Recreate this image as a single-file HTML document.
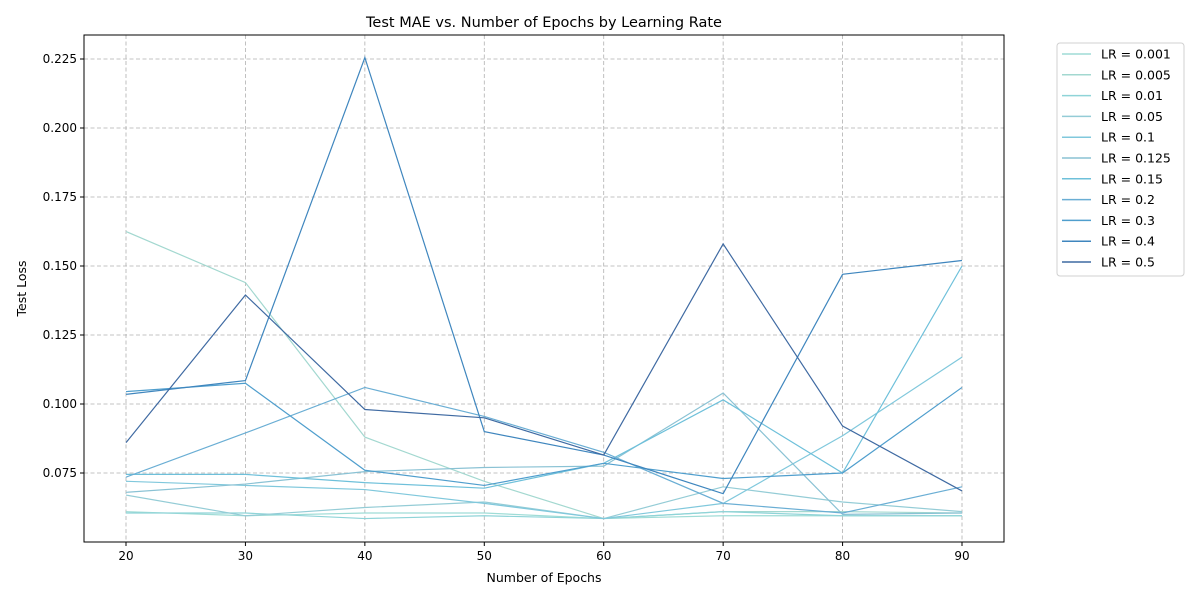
<!DOCTYPE html>
<html><head><meta charset="utf-8"><style>
body{margin:0;background:#fff;font-family:"Liberation Sans","DejaVu Sans",sans-serif}
svg text{font-family:"DejaVu Sans","Liberation Sans",sans-serif;fill:#000}
</style></head><body>
<svg id="chart" width="1200" height="600" xmlns="http://www.w3.org/2000/svg"></svg>
<script>
const epochs=[20,30,40,50,60,70,80,90];
const seriesLabels=["LR = 0.001","LR = 0.005","LR = 0.01","LR = 0.05","LR = 0.1","LR = 0.125","LR = 0.15","LR = 0.2","LR = 0.3","LR = 0.4","LR = 0.5"];
const s001=[0.061,0.0595,0.0605,0.0605,0.0585,0.0595,0.0595,0.0595];
const s005=[0.1625,0.144,0.088,0.072,0.0585,0.061,0.061,0.0605];
const s01=[0.0605,0.0605,0.0585,0.0595,0.0585,0.061,0.0595,0.0595];
const s05=[0.067,0.0595,0.0625,0.0645,0.0585,0.070,0.0645,0.061];
const s1=[0.072,0.0705,0.069,0.064,0.0585,0.064,0.0885,0.117];
const s125=[0.068,0.071,0.0755,0.077,0.0775,0.104,0.060,0.0605];
const s15=[0.0745,0.0745,0.0715,0.0695,0.0785,0.1015,0.075,0.150];
const s2=[0.0735,0.0895,0.106,0.0955,0.0825,0.064,0.0605,0.070];
const s3=[0.1045,0.1075,0.076,0.0705,0.0785,0.073,0.075,0.106];
const s4=[0.1035,0.1085,0.2255,0.090,0.0815,0.0675,0.147,0.152];
const s5=[0.086,0.1395,0.098,0.095,0.0815,0.158,0.092,0.0685];
const allSeries=[s001,s005,s01,s05,s1,s125,s15,s2,s3,s4,s5];
const colors=["#9fdcd6","#a3d8d0","#8fd4d8","#94ccd6","#80c8dc","#8ac2d4","#6ec0da","#6aaed4","#4f9ecd","#3f86be","#3f6aa2"];
const xTicks=[20,30,40,50,60,70,80,90];
const yTicks=[0.075,0.100,0.125,0.150,0.175,0.200,0.225];
const NS="http://www.w3.org/2000/svg";
const svg=document.getElementById('chart');
const L=84,R=1004,T=35,B=542;
const xs=v=>126+(v-20)*(962-126)/70;
const ys=v=>473-(v-0.075)/0.025*69;
function mk(t,a,p){const e=document.createElementNS(NS,t);for(const k in a)e.setAttribute(k,a[k]);(p||svg).appendChild(e);return e;}
const grid=mk('g',{});


xTicks.forEach(t=>{
 const x=xs(t);
 const gl=mk('line',{x1:x,x2:x,y1:T,y2:B,stroke:'#b0b0b0','stroke-dasharray':'4,2.5','stroke-width':0.8},grid);
 
 
 mk('line',{x1:x,x2:x,y1:B,y2:B+4,stroke:'#000'});
 const tx=mk('text',{x:x,y:B+18,'text-anchor':'middle','font-size':12});
 tx.textContent=t;
 
 
});
yTicks.forEach(t=>{
 const y=ys(t);
 const gl=mk('line',{x1:L,x2:R,y1:y,y2:y,stroke:'#b0b0b0','stroke-dasharray':'4,2.5','stroke-width':0.8},grid);
 
 
 mk('line',{x1:L-4,x2:L,y1:y,y2:y,stroke:'#000'});
 const tx=mk('text',{x:L-7,y:y+4,'text-anchor':'end','font-size':12});
 tx.textContent=t.toFixed(3);
 
 
});
allSeries.forEach((s,i)=>{
 const pl=mk('polyline',{points:s.map((v,j)=>xs(epochs[j])+','+ys(v)).join(' '),fill:'none',stroke:colors[i],'stroke-width':1.2});
 
 
});
const frame=mk('rect',{x:L,y:T,width:R-L,height:B-T,fill:'none',stroke:'#000','stroke-width':1});


const title=mk('text',{x:(L+R)/2,y:27,'text-anchor':'middle','font-size':14.5});
title.textContent='Test MAE vs. Number of Epochs by Learning Rate';


const xl=mk('text',{x:(L+R)/2,y:582,'text-anchor':'middle','font-size':12.5});
xl.textContent='Number of Epochs';


const yl=mk('text',{x:26,y:(T+B)/2,'text-anchor':'middle','font-size':12.5,transform:'rotate(-90 26 '+((T+B)/2)+')'});
yl.textContent='Test Loss';


const leg=mk('g',{});


mk('rect',{x:1057,y:43,width:127,height:233,rx:3,fill:'#fff',stroke:'#d0d0d0'},leg);
seriesLabels.forEach((lab,i)=>{
 const y=54+i*20.8;
 const e=mk('g',{},leg);
 
 
 mk('line',{x1:1062,x2:1091,y1:y,y2:y,stroke:colors[i],'stroke-width':1.5},e);
 const t=mk('text',{x:1101,y:y+4.5,'font-size':12.5},e);
 t.textContent=lab;
});
</script>
</body></html>
